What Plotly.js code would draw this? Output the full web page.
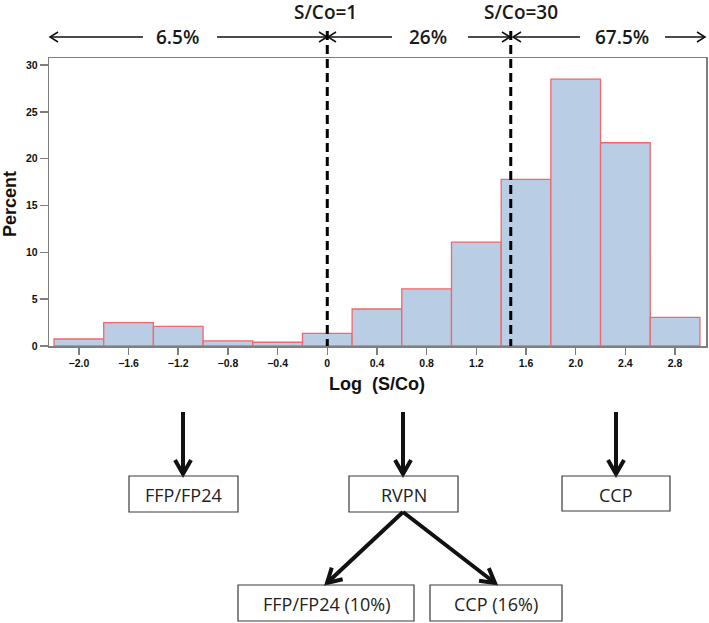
<!DOCTYPE html>
<html>
<head>
<meta charset="utf-8">
<script src="https://cdn.plot.ly/plotly-3.0.1.min.js"></script>
<style>html,body{margin:0;padding:0;background:#fff}#chart{width:709px;height:623px}</style>
</head>
<body>
<div id="chart"></div>
<script>
// ---- data ----
const binCenters = [-2.0, -1.6, -1.2, -0.8, -0.4, 0.0, 0.4, 0.8, 1.2, 1.6, 2.0, 2.4, 2.8];
const percents   = [0.75, 2.5, 2.1, 0.55, 0.4, 1.35, 3.95, 6.1, 11.1, 17.8, 28.5, 21.7, 3.05];
const xTickLabels = ['\u22122.0','\u22121.6','\u22121.2','\u22120.8','\u22120.4','0','0.4','0.8','1.2','1.6','2.0','2.4','2.8'];
const yTicks = [0, 5, 10, 15, 20, 25, 30];
const cutoffValues = [0, Math.log10(30)];
const cutoffLabels = ['S/Co=1', 'S/Co=30'];
const rangeShares = ['6.5%', '26%', '67.5%'];
const decisionBoxes = ['FFP/FP24', 'RVPN', 'CCP'];
const rvpnOutcomes = ['FFP/FP24 (10%)', 'CCP (16%)'];

// ---- layout helpers (pixel overlay axis x2/y2) ----
const W = 709, H = 623;
const ink = '#111';
const shapes = [];
const annotations = [];
function line(x0, y0, x1, y1, w, extra) {
  shapes.push(Object.assign({type:'line', xref:'x2', yref:'y2', x0, y0, x1, y1,
    line:{color:ink, width:w}}, extra||{}));
}
function head(tx, ty, fx, fy, len, half, w) {
  const dx = tx - fx, dy = ty - fy, L = Math.hypot(dx, dy);
  const ux = dx / L, uy = dy / L, px = -uy, py = ux;
  const bx = tx - ux * len, by = ty - uy * len;
  const p = `M ${bx + px*half} ${by + py*half} L ${tx} ${ty} L ${bx - px*half} ${by - py*half}`;
  shapes.push({type:'path', xref:'x2', yref:'y2', path:p, line:{color:ink, width:w}});
}
function arrow(fx, fy, tx, ty, w, len, half) {
  line(fx, fy, tx, ty, w);
  head(tx, ty, fx, fy, len, half, w);
}
function box(x0, y0, x1, y1, label) {
  shapes.push({type:'rect', xref:'x2', yref:'y2', x0, y0, x1, y1,
    line:{color:'#3a3a3a', width:1.2}, fillcolor:'rgba(0,0,0,0)'});
  annotations.push({xref:'x2', yref:'y2', x:(x0+x1)/2, y:(y0+y1)/2 + 1, text:label, showarrow:false,
    font:{family:'Open Sans', size:18, color:'#222'}});
}
function label(x, y, text, size) {
  annotations.push({xref:'x2', yref:'y2', x, y, text, showarrow:false,
    font:{family:'Open Sans', size:size, weight:600, color:'#1a1a1a'}});
}

// top range arrows
const yA = 37;
arrow(143, yA, 50, yA, 1.5, 8, 5);
arrow(217, yA, 327, yA, 1.5, 8, 5);
arrow(392, yA, 328, yA, 1.5, 8, 5);
arrow(468, yA, 510, yA, 1.5, 8, 5);
arrow(580, yA, 513, yA, 1.5, 8, 5);
arrow(665, yA, 705, yA, 1.5, 8, 5);
label(177, yA, rangeShares[0], 19);
label(428, yA, rangeShares[1], 19);
label(622, yA, rangeShares[2], 19);
label(325, 12, cutoffLabels[0], 19);
label(521, 12, cutoffLabels[1], 19);

// dashed cutoff lines (data x, pixel y)
cutoffValues.forEach(v => {
  shapes.push({type:'line', xref:'x', yref:'y2', x0:v, x1:v, y0:31, y1:346,
    line:{color:'#000', width:3, dash:'9px,5px'}});
});

// flowchart
arrow(183, 412, 183, 474, 4, 14, 8);
arrow(403, 412, 403, 474, 4, 14, 8);
arrow(616, 412, 616, 474, 4, 14, 8);
box(129, 476, 238, 512, decisionBoxes[0]);
box(349, 476, 458, 512, decisionBoxes[1]);
box(562, 476, 670, 511, decisionBoxes[2]);
arrow(403, 512, 327, 583, 4, 14, 8);
arrow(403, 512, 495, 583, 4, 14, 8);
box(238, 585, 414, 621, rvpnOutcomes[0]);
box(430, 585, 562, 621, rvpnOutcomes[1]);

// axis titles
annotations.push({xref:'x2', yref:'y2', x:377, y:384, text:'Log&nbsp;&nbsp;(S/Co)', showarrow:false,
  font:{family:'Liberation Sans', size:18, weight:'bold', color:'#111'}});
annotations.push({xref:'x2', yref:'y2', x:10, y:204, text:'Percent', textangle:-90, showarrow:false,
  font:{family:'Liberation Sans', size:18, weight:'bold', color:'#111'}});

const trace = {
  type:'bar', x:binCenters, y:percents, width:0.4,
  marker:{color:'#b9cde5', line:{color:'#f2676b', width:1.3}},
  hoverinfo:'x+y'
};

const axisGray = '#7f7f7f';
const layout = {
  width:W, height:H,
  margin:{l:0, r:0, t:0, b:0, pad:0},
  paper_bgcolor:'#fff', plot_bgcolor:'rgba(0,0,0,0)',
  showlegend:false,
  xaxis:{domain:[49.3/W, 706/W], range:[-2.238, 3.049], anchor:'y',
    tickvals:binCenters, ticktext:xTickLabels, ticks:'outside', ticklen:7, tickwidth:1.5, tickcolor:axisGray,
    showline:true, linecolor:axisGray, linewidth:1.5, mirror:true, showgrid:false, zeroline:false,
    tickfont:{family:'Liberation Sans', size:10.5, weight:'bold', color:'#111'}, automargin:false},
  yaxis:{domain:[1-346/H, 1-58/H], range:[0, 30.75], anchor:'x',
    tickvals:yTicks, ticks:'outside', ticklen:8, tickwidth:1.5, tickcolor:axisGray,
    showline:true, linecolor:axisGray, linewidth:1.5, mirror:true, showgrid:false, zeroline:false,
    tickfont:{family:'Liberation Sans', size:10.5, weight:'bold', color:'#111'}, automargin:false},
  xaxis2:{domain:[0,1], range:[0, W], anchor:'y2', visible:false, fixedrange:true},
  yaxis2:{domain:[0,1], range:[H, 0], anchor:'x2', visible:false, fixedrange:true},
  shapes, annotations
};

Plotly.newPlot('chart', [trace], layout, {displayModeBar:false, staticPlot:true});
</script>
</body>
</html>
